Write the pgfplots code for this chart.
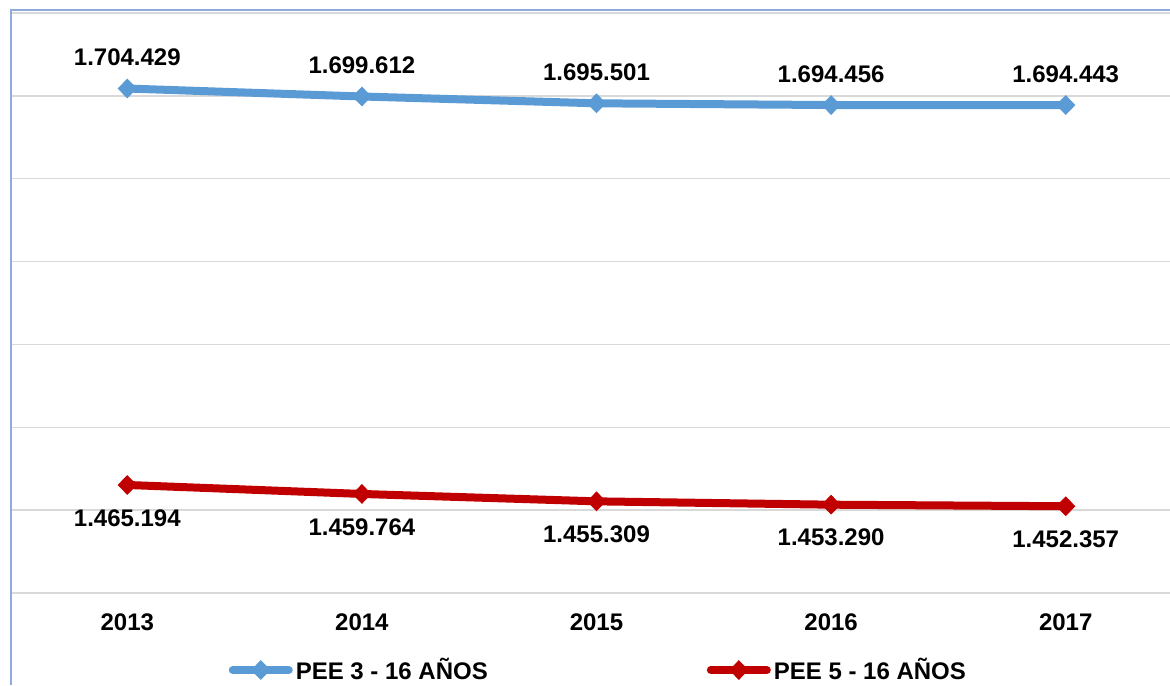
\documentclass[border=0pt]{standalone}
\usepackage{fontspec}
\setmainfont{Liberation Sans}
\usepackage{pgfplots}
\pgfplotsset{compat=1.18}
\definecolor{cblue}{HTML}{5B9BD5}
\definecolor{cred}{HTML}{C00000}
\definecolor{frameblue}{HTML}{8FAADC}
\definecolor{gridgray}{HTML}{D9D9D9}
\begin{document}
\begin{tikzpicture}[x=1pt,y=1pt]
\useasboundingbox (0,0) rectangle (585,342.5);
\begin{axis}[
  at={(5pt,46pt)}, anchor=south west,
  scale only axis, width=586.5pt, height=290pt,
  xmin=-0.5, xmax=4.5, ymin=1400000, ymax=1750000,
  xtick={0,1,2,3,4}, xticklabels={2013,2014,2015,2016,2017},
  ytick={1400000,1450000,1500000,1550000,1600000,1650000,1700000,1750000},
  yticklabels={}, scaled y ticks=false,
  major tick length=0pt,
  ymajorgrids, grid style={gridgray, line width=0.7pt},
  axis line style={draw=none},
  font=\fontsize{12}{14}\selectfont\bfseries,
  /pgf/number format/assume math mode=true,
  xticklabel style={anchor=center, yshift=-14.5pt, inner sep=0pt},
  clip=false,
  line width=4pt,
  legend columns=2,
  legend style={at={(axis description cs:0.502,-0.1328)}, anchor=center,
    draw=none, fill=none, nodes={inner sep=1.5pt},
    /tikz/every even column/.append style={column sep=108pt}},
  legend image code/.code={
    \draw[#1, mark=none, line cap=round] (0pt,0pt) -- (28pt,0pt);
    \draw[#1] plot coordinates {(14pt,0pt)};
  },
  nodes near coords, point meta=explicit symbolic,
]
\addplot[cblue, mark=diamond*, mark size=4.6pt,
  mark options={solid, line width=0.5pt, xscale=1.3},
  every node near coord/.append style={anchor=center, yshift=15.5pt, inner sep=0pt, black}]
  table[meta=lab] {
x y lab
0 1704429 1.704.429
1 1699612 1.699.612
2 1695501 1.695.501
3 1694456 1.694.456
4 1694443 1.694.443
};
\addlegendentry{PEE 3 - 16 AÑOS}
\addplot[cred, mark=diamond*, mark size=4.6pt,
  mark options={solid, line width=0.5pt, xscale=1.3},
  every node near coord/.append style={anchor=center, yshift=-16.5pt, inner sep=0pt, black}]
  table[meta=lab] {
x y lab
0 1465194 1.465.194
1 1459764 1.459.764
2 1455309 1.455.309
3 1453290 1.453.290
4 1452357 1.452.357
};
\addlegendentry{PEE 5 - 16 AÑOS}
\end{axis}
\draw[frameblue, line width=1pt] (5.5,0) -- (5.5,337.5) -- (585,337.5);
\end{tikzpicture}
\end{document}
